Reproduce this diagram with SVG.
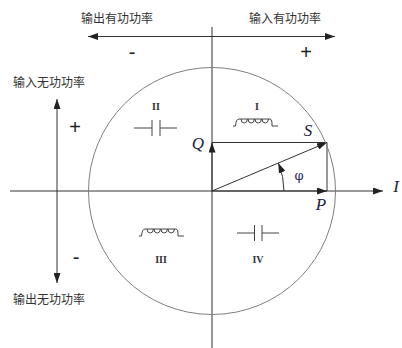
<svg xmlns="http://www.w3.org/2000/svg" width="402" height="348" viewBox="0 0 402 348">
<style>
.ln{stroke:#333;stroke-width:1;fill:none}
.circ{stroke:#808080;stroke-width:1;fill:none}
.cn{font-family:"Noto Sans CJK SC","Noto Sans",sans-serif;font-size:12px;fill:#333;text-anchor:middle}
.rn{font-family:"Liberation Serif",serif;font-size:10px;font-weight:bold;fill:#333;text-anchor:middle}
.lab{font-family:"Liberation Serif",serif;font-style:italic;font-size:17px;fill:#1c1c3c;text-anchor:middle}
.sg{font-family:"Liberation Sans",sans-serif;font-size:20px;fill:#222;text-anchor:middle}
.sym{stroke:#444;stroke-width:1;fill:none}
</style>
<defs>
<marker id="ah" viewBox="0 0 10 7" refX="10" refY="3.5" markerWidth="10" markerHeight="7" markerUnits="userSpaceOnUse" orient="auto-start-reverse">
<path d="M0,0 L10,3.5 L0,7 Z" fill="#222"/>
</marker>
</defs>
<rect width="402" height="348" fill="#fff"/>
<g id="connectors">
<line class="ln" x1="88" y1="36.5" x2="335" y2="36.5" marker-start="url(#ah)" marker-end="url(#ah)"/>
<line class="ln" x1="57" y1="99" x2="57" y2="283" marker-start="url(#ah)" marker-end="url(#ah)"/>
<line class="ln" x1="212" y1="27" x2="212" y2="348"/>
<line class="ln" x1="10" y1="191" x2="383" y2="191" marker-end="url(#ah)"/>
<line class="ln" x1="212" y1="191" x2="212" y2="142.5" marker-end="url(#ah)"/>
<line class="ln" x1="212" y1="191" x2="327" y2="191" marker-end="url(#ah)"/>
<line class="ln" x1="212" y1="142.5" x2="327" y2="142.5"/>
<line class="ln" x1="327" y1="142.5" x2="327" y2="191"/>
<line class="ln" x1="212" y1="191" x2="327" y2="142.5" marker-end="url(#ah)"/>
<path class="ln" d="M284,191 A72,72 0 0 0 278.3,163" marker-end="url(#ah)"/>
</g>
<g id="circle"><circle class="circ" cx="212" cy="191" r="123.5"/></g>
<g id="labels-top">
<text class="cn" x="117" y="23">输出有功功率</text>
<text class="cn" x="285" y="23">输入有功功率</text>
<text class="sg" x="132" y="59">-</text>
<text class="sg" x="306" y="59">+</text>
<text class="cn" x="49" y="87">输入无功功率</text>
<text class="sg" x="75" y="134">+</text>
<text class="sg" x="76" y="264">-</text>
<text class="cn" x="49" y="304">输出无功功率</text>
</g>
<g id="quadrant-I">
<text class="rn" x="257" y="110">I</text>
<path class="sym" d="M233,126 H235.5 Q236,119 239,119 H270 Q272,119 272,123 V126 H278"/>
<path class="sym" d="M241,119 a3.2,4 0 1 0 6.4,0 M248,119 a3.2,4 0 1 0 6.4,0 M255,119 a3.2,4 0 1 0 6.4,0 M262,119 a3.2,4 0 1 0 6.4,0"/>
</g>
<g id="quadrant-II">
<text class="rn" x="156" y="110">II</text>
<path class="sym" d="M134,128 H152 M152,120 V136 M160,120 V136 M160,128 H177"/>
</g>
<g id="quadrant-III">
<text class="rn" x="161" y="263">III</text>
<path class="sym" d="M139,236 H141.5 Q142,229 145,229 H176 Q178,229 178,233 V236 H184"/>
<path class="sym" d="M147,229 a3.2,4 0 1 0 6.4,0 M154,229 a3.2,4 0 1 0 6.4,0 M161,229 a3.2,4 0 1 0 6.4,0 M168,229 a3.2,4 0 1 0 6.4,0"/>
</g>
<g id="quadrant-IV">
<text class="rn" x="258" y="263">IV</text>
<path class="sym" d="M237,233 H254.5 M254.5,225 V241 M262,225 V241 M262,233 H279"/>
</g>
<g id="vector-labels">
<text class="lab" x="308" y="136">S</text>
<text class="lab" x="198" y="149">Q</text>
<text class="lab" x="321" y="210">P</text>
<text class="lab" x="396" y="192">I</text>
<text x="299" y="180" font-family="DejaVu Serif,serif" font-size="13" fill="#2a2a5a" text-anchor="middle">φ</text>
</g>
</svg>
